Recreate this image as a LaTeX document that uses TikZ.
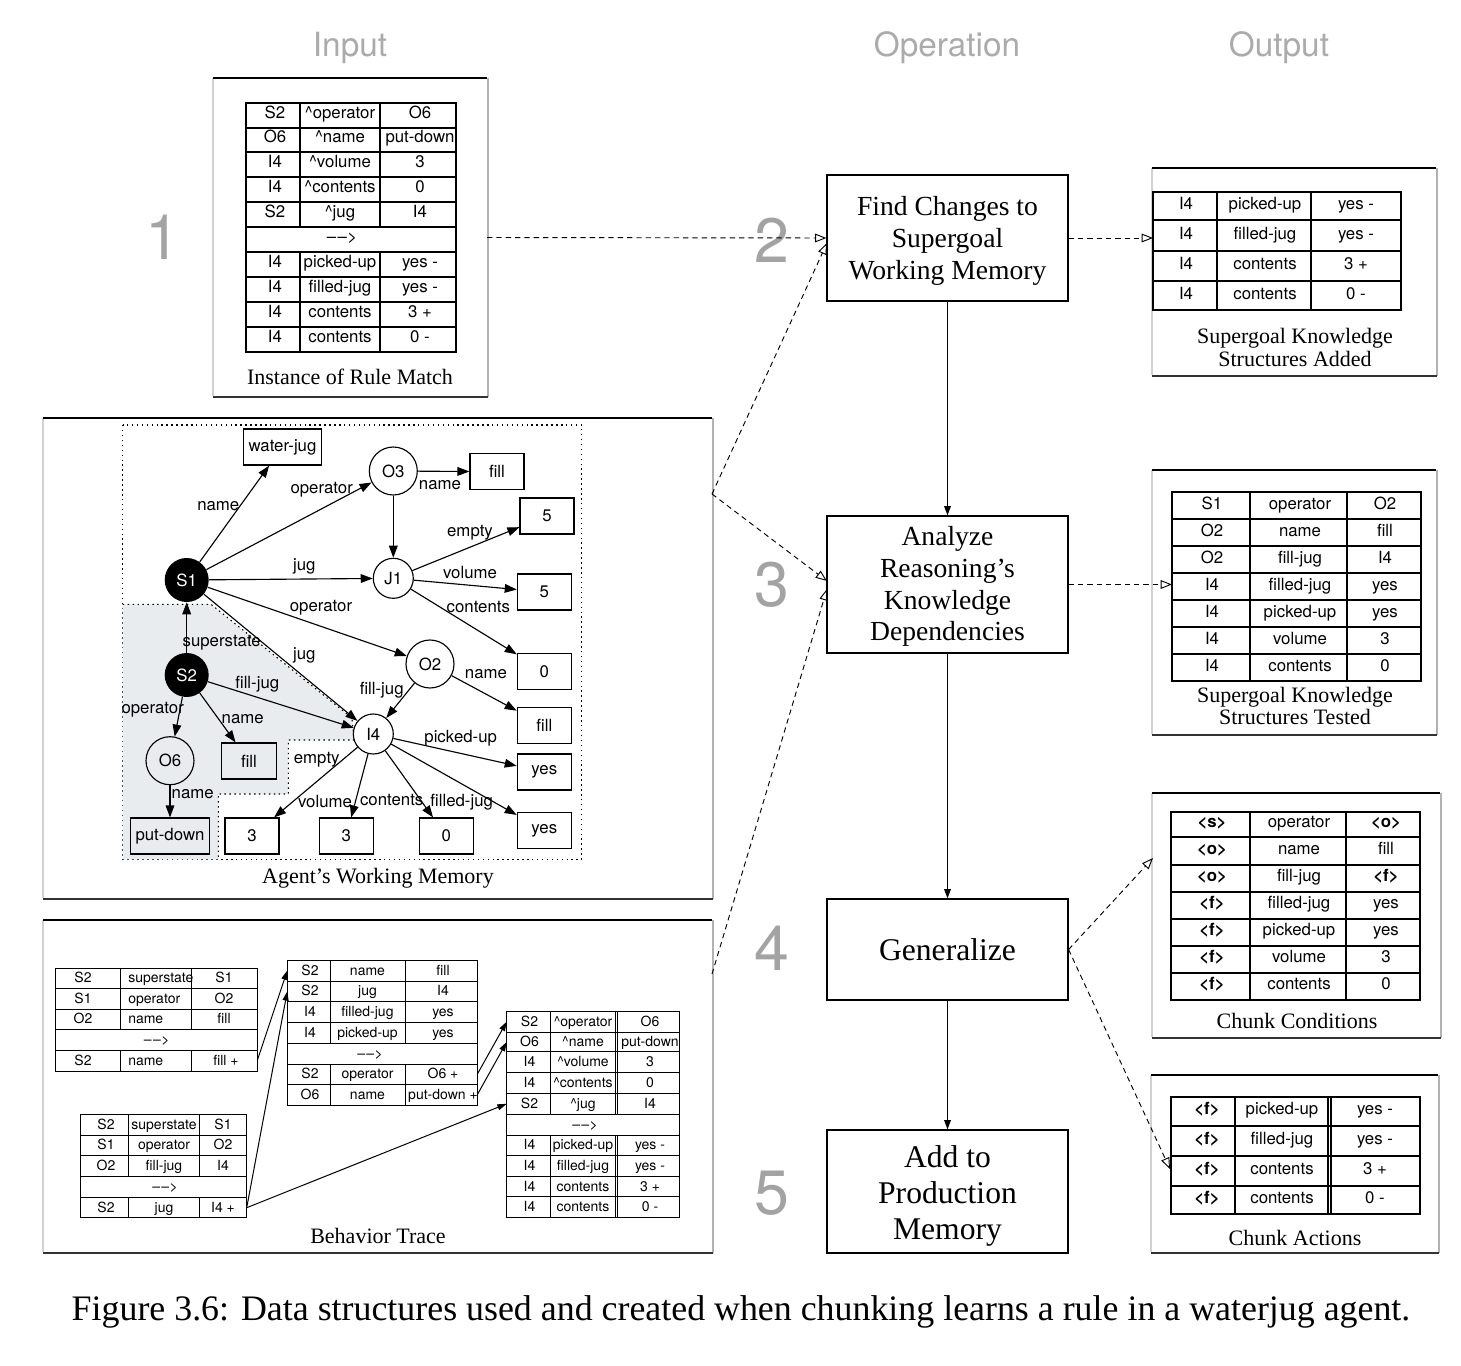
\documentclass[tikz,border=0pt]{standalone}
\usepackage{fontspec}
\setmainfont{Liberation Serif}
\setsansfont{TeX Gyre Heros}
\usetikzlibrary{arrows.meta,shadows}
\definecolor{hdr}{HTML}{ABABAB}
\definecolor{digc}{HTML}{A3A3A3}
\definecolor{shadeg}{HTML}{E9ECEE}
\newcommand\ftab{\sffamily\fontsize{12.6}{15}\selectfont}
\newcommand\fbt{\sffamily\fontsize{10.5}{12}\selectfont}
\newcommand\fgr{\sffamily\fontsize{12.6}{15}\selectfont}
\newcommand\fcap{\rmfamily\fontsize{16.5}{16.8}\selectfont}
\newcommand\fopA{\rmfamily\fontsize{20.7}{23.8}\selectfont}
\newcommand\fopB{\rmfamily\fontsize{23.7}{27}\selectfont}
\newcommand\fhdr{\sffamily\fontsize{25}{30}\selectfont}
\newcommand\fdig{\sffamily\fontsize{47}{50}\selectfont}
\newcommand\ffig{\rmfamily\fontsize{26.9}{30}\selectfont}
\newcommand\arrw{\textendash\hspace{1pt}\textendash\hspace{0.3pt}>}
\newcommand\trow[8]{%
  \node[tt] (#1a) at (#3,#2) {#6};
  \node[tt] (#1b) at (#4,#2) {#7};
  \node[tt] (#1c) at (#5,#2) {#8};}
\newcommand\mkpanel[5]{%
  \fill[white] (#2,#3) rectangle (#4,#5);
  \draw[black!18, line width=0.8pt] (#2,#3) -- (#2,#5);
  \draw[black!30, line width=1.4pt] (#4+1,#3) -- (#4+1,#5+1);
  \draw[black, line width=0.8pt] (#2,#3) -- (#4,#3);
  \draw[black!80, line width=2pt] (#2,#5+1) -- (#4+1,#5+1);
  \coordinate (#1) at (#2,#3);}
\begin{document}
\begin{tikzpicture}[x=0.75pt,y=-0.75pt,
  tbl/.style={line width=0.85pt},
  tblb/.style={line width=0.7pt},
  tt/.style={anchor=base, inner sep=0pt, outer sep=0pt, font=\ftab},
  gbox/.style={draw, fill=white, line width=0.85pt, minimum width=40.5pt, minimum height=27pt, inner sep=0pt, font=\fgr},
  gcirc/.style={circle, draw, fill=white, line width=0.85pt, inner sep=0pt, font=\fgr},
  bcirc/.style={circle, fill=black, text=white, inner sep=0pt, minimum size=33pt, font=\fgr},
  glab/.style={inner sep=0pt, font=\fgr},
  garr/.style={line width=0.85pt, -{Triangle[length=9pt,width=6.5pt]}},
  darr/.style={line width=0.7pt, dash pattern=on 4pt off 3pt, -{Triangle[open,length=8.5pt,width=6.5pt]}},
  sarr/.style={line width=0.9pt, -{Triangle[length=7pt,width=5pt]}},
  btarr/.style={line width=0.75pt, -{Triangle[length=7pt,width=4.5pt]}},
  opbox/.style={draw, fill=white, line width=0.9pt, align=center, inner sep=0pt,
     drop shadow={shadow xshift=1.1pt, shadow yshift=-1.1pt, fill=black!55, opacity=1}},
  captxt/.style={font=\fcap, align=center, inner sep=0pt},
  hdrtxt/.style={font=\fhdr, text=hdr, inner sep=0pt},
  digit/.style={font=\fdig, text=digc, inner sep=0pt}]

\useasboundingbox (0,0) rectangle (1461,1366);
\fill[white] (0,0) rectangle (1461,1366);

% ---------- headers ----------
\node[hdrtxt] (hIn) at (350,47.5) {Input};
\node[hdrtxt] (hOp) at (947,47.5) {Operation};
\node[hdrtxt] (hOut) at (1279,47.5) {Output};

% ---------- digits ----------
\node[digit] (d1) at (163,237) {1};
\node[digit] (d2) at (772,240) {2};
\node[digit] (d3) at (772,585) {3};
\node[digit] (d4) at (772,948) {4};
\node[digit] (d5) at (772,1193) {5};

% ---------- panels ----------
\mkpanel{pIn}{213}{78}{487}{396}
\mkpanel{pWM}{43}{418}{712}{898}
\mkpanel{pBT}{43}{920}{712}{1252}
\mkpanel{pAdd}{1152}{168}{1436}{375}
\mkpanel{pTest}{1152}{470}{1436}{734}
\mkpanel{pCond}{1152}{793}{1440}{1037}
\mkpanel{pAct}{1151}{1075}{1438}{1252}

% ---------- Input table ----------
\draw[tbl] (246,103) rectangle (456,352);
\foreach \yy in {128,177,202,227,252,277,302,327} \draw[tbl] (246,\yy) -- (456,\yy);
\draw[line width=1.5pt] (246,152) -- (456,152);
\draw[tbl] (300,103) -- (300,227); \draw[tbl] (300,252) -- (300,352);
\draw[line width=1.4pt] (380,103) -- (380,227); \draw[line width=1.4pt] (380,252) -- (380,352);
\trow{in1}{118.5}{275}{340}{420}{S2}{\textasciicircum operator}{O6}
\trow{in2}{143}{275}{340}{420}{O6}{\textasciicircum name}{put-down}
\trow{in3}{167.5}{275}{340}{420}{I4}{\textasciicircum volume}{3}
\trow{in4}{192.5}{275}{340}{420}{I4}{\textasciicircum contents}{0}
\trow{in5}{217.5}{275}{340}{420}{S2}{\textasciicircum jug}{I4}
\node[tt] (inAr) at (342,242.5) {\arrw};
\trow{in6}{267.5}{275}{340}{420}{I4}{picked-up}{yes -}
\trow{in7}{292.5}{275}{340}{420}{I4}{filled-jug}{yes -}
\trow{in8}{317.5}{275}{340}{420}{I4}{contents}{3 +}
\trow{in9}{342.5}{275}{340}{420}{I4}{contents}{0 -}
\node[captxt] (cIn) at (350,377) {Instance of Rule Match};

% ---------- Added table ----------
\draw[tbl] (1153,192) rectangle (1401,310);
\foreach \yy in {220,251,281} \draw[tbl] (1153,\yy) -- (1401,\yy);
\foreach \xx in {1217,1311} \draw[tbl] (\xx,192) -- (\xx,310);
\trow{ad1}{210}{1186}{1265}{1356}{I4}{picked-up}{yes -}
\trow{ad2}{239.5}{1186}{1265}{1356}{I4}{filled-jug}{yes -}
\trow{ad3}{270}{1186}{1265}{1356}{I4}{contents}{3 +}
\trow{ad4}{299.5}{1186}{1265}{1356}{I4}{contents}{0 -}
\node[captxt] (cAdd) at (1295,347.5) {Supergoal Knowledge\\Structures Added};

% ---------- Tested table ----------
\draw[tbl] (1172,492) rectangle (1421,681);
\foreach \yy in {519,546,573,600,627,654} \draw[tbl] (1172,\yy) -- (1421,\yy);
\foreach \xx in {1250,1347} \draw[tbl] (\xx,492) -- (\xx,681);
\trow{te1}{509}{1212}{1300}{1385}{S1}{operator}{O2}
\trow{te2}{536}{1212}{1300}{1385}{O2}{name}{fill}
\trow{te3}{563}{1212}{1300}{1385}{O2}{fill-jug}{I4}
\trow{te4}{590}{1212}{1300}{1385}{I4}{filled-jug}{yes}
\trow{te5}{617}{1212}{1300}{1385}{I4}{picked-up}{yes}
\trow{te6}{644}{1212}{1300}{1385}{I4}{volume}{3}
\trow{te7}{671}{1212}{1300}{1385}{I4}{contents}{0}
\node[captxt] (cTest) at (1295,706) {Supergoal Knowledge\\Structures Tested};

% ---------- Chunk conditions ----------
\draw[tbl] (1171,812) rectangle (1420,1000);
\foreach \yy in {837,865,892,919,946,973} \draw[tbl] (1171,\yy) -- (1420,\yy);
\foreach \xx in {1250,1346} \draw[tbl] (\xx,812) -- (\xx,1000);
\trow{cc1}{827.5}{1212}{1299}{1386}{\textbf{<s>}}{operator}{\textbf{<o>}}
\trow{cc2}{854}{1212}{1299}{1386}{\textbf{<o>}}{name}{fill}
\trow{cc3}{881.5}{1212}{1299}{1386}{\textbf{<o>}}{fill-jug}{\textbf{<f>}}
\trow{cc4}{908.5}{1212}{1299}{1386}{\textbf{<f>}}{filled-jug}{yes}
\trow{cc5}{935.5}{1212}{1299}{1386}{\textbf{<f>}}{picked-up}{yes}
\trow{cc6}{962.5}{1212}{1299}{1386}{\textbf{<f>}}{volume}{3}
\trow{cc7}{989.5}{1212}{1299}{1386}{\textbf{<f>}}{contents}{0}
\node[captxt] (cCond) at (1297,1021) {Chunk Conditions};

% ---------- Chunk actions ----------
\draw[tbl] (1171,1097) rectangle (1420,1214);
\foreach \yy in {1126,1156,1186} \draw[tbl] (1171,\yy) -- (1420,\yy);
\foreach \xx in {1235,1328,1331} \draw[tbl] (\xx,1097) -- (\xx,1214);
\trow{ca1}{1114.5}{1207}{1282}{1375}{\textbf{<f>}}{picked-up}{yes -}
\trow{ca2}{1144}{1207}{1282}{1375}{\textbf{<f>}}{filled-jug}{yes -}
\trow{ca3}{1174}{1207}{1282}{1375}{\textbf{<f>}}{contents}{3 +}
\trow{ca4}{1203}{1207}{1282}{1375}{\textbf{<f>}}{contents}{0 -}
\node[captxt] (cAct) at (1295,1238) {Chunk Actions};

% ---------- Working memory graph ----------
\draw[line width=0.8pt, dash pattern=on 1.1pt off 2.6pt] (122.7,425) rectangle (581.7,859.3);
\fill[shadeg] (122.7,604.3) -- (211,604.3) -- (352,718) -- (354,740) -- (288.3,740) -- (288.3,794) -- (218.3,794) -- (218.3,859.3) -- (122.7,859.3) -- cycle;
\draw[line width=0.8pt, dash pattern=on 1.1pt off 2.6pt] (122.7,604.3) -- (211,604.3) -- (352,718) -- (354,740) -- (288.3,740) -- (288.3,794) -- (218.3,794) -- (218.3,859.3);

\node[bcirc] (S1) at (186.7,580) {S1};
\node[bcirc] (S2) at (186.7,675) {S2};
\node[gcirc, minimum size=36pt] (O3) at (393.3,471) {O3};
\node[gcirc, minimum size=30pt] (J1) at (393.3,578.3) {J1};
\node[gcirc, minimum size=36pt] (O2) at (430,664) {O2};
\node[gcirc, minimum size=30pt] (I4) at (373.3,734) {I4};
\node[gcirc, minimum size=36pt, fill=shadeg] (O6) at (170,760.7) {O6};
\node[gbox, minimum width=58.8pt] (wj) at (282.5,447) {water-jug};
\node[gbox] (fillA) at (497,471.7) {fill};
\node[gbox] (fiveA) at (547,516) {5};
\node[gbox] (fiveB) at (544.3,592) {5};
\node[gbox] (zeroA) at (544.3,671.3) {0};
\node[gbox] (fillB) at (544.3,725.5) {fill};
\node[gbox] (yesA) at (544.3,772) {yes};
\node[gbox] (yesB) at (544.3,830.5) {yes};
\node[gbox] (zeroB) at (446.3,836) {0};
\node[gbox] (threeB) at (346.3,836) {3};
\node[gbox] (threeA) at (252,836) {3};
\node[gbox, fill=shadeg, minimum width=58.8pt] (pd) at (170,836) {put-down};
\node[gbox, fill=shadeg, minimum width=41.7pt] (fillC) at (249,761) {fill};

\draw[garr] (S1) -- (wj);
\draw[garr] (S1) -- (O3);
\draw[garr] (S1) -- (J1);
\draw[garr] (S1) -- (O2);
\draw[garr] (S1) -- (I4);
\draw[garr] (S2) -- (S1);
\draw[garr] (S2) -- (I4);
\draw[garr] (S2) -- (O6);
\draw[garr] (S2) -- (fillC);
\draw[garr] (O6) -- (pd);
\draw[garr] (O3) -- (fillA);
\draw[garr] (O3) -- (J1);
\draw[garr] (J1) -- (fiveA);
\draw[garr] (J1) -- (fiveB);
\draw[garr] (J1) -- (zeroA);
\draw[garr] (O2) -- (fillB);
\draw[garr] (O2) -- (I4);
\draw[garr] (I4) -- (threeA);
\draw[garr] (I4) -- (threeB);
\draw[garr] (I4) -- (zeroB);
\draw[garr] (I4) -- (yesA);
\draw[garr] (I4) -- (yesB);

\node[glab] (l1) at (218.3,505.7) {name};
\node[glab] (l2) at (321.7,490) {operator};
\node[glab] (l3) at (304.3,566) {jug};
\node[glab] (l4) at (321,607.7) {operator};
\node[glab] (l5) at (221.7,642.7) {superstate};
\node[glab] (l6) at (304.3,655) {jug};
\node[glab] (l7) at (257.3,684) {fill-jug};
\node[glab] (l8) at (152.7,710) {operator};
\node[glab] (l9) at (242.7,719) {name};
\node[glab] (l10) at (192.7,794.3) {name};
\node[glab] (l11) at (316.7,759.3) {empty};
\node[glab] (l12) at (325,801) {volume};
\node[glab] (l13) at (391.7,800) {contents};
\node[glab] (l14) at (461.7,801.7) {filled-jug};
\node[glab] (l15) at (460.7,738.3) {picked-up};
\node[glab] (l16) at (486,674.3) {name};
\node[glab] (l17) at (381.7,690) {fill-jug};
\node[glab] (l18) at (440,485) {name};
\node[glab] (l19) at (470,532.3) {empty};
\node[glab] (l20) at (470,572.3) {volume};
\node[glab] (l21) at (478.3,606.7) {contents};
\node[captxt] (cWM) at (378,878) {Agent’s Working Memory};

% ---------- Behavior trace ----------
\begin{scope}[tt/.style={anchor=base, inner sep=0pt, font=\fbt}]
% BT1
\draw[tblb] (55.7,968.3) rectangle (257.3,1071);
\draw[line width=1.2pt] (55.7,988.3) -- (257.3,988.3);
\foreach \yy in {1009,1029,1050} \draw[tblb] (55.7,\yy) -- (257.3,\yy);
\foreach \xx in {120.7,191.7} {\draw[tblb] (\xx,968.3) -- (\xx,1029); \draw[tblb] (\xx,1050) -- (\xx,1071);}
\node[tt] (b1r1a) at (83,982.8) {S2}; \node[tt, anchor=base west] (b1r1b) at (128,982.8) {superstate}; \node[tt] (b1r1c) at (224,982.8) {S1};
\node[tt] (b1r2a) at (83,1003.1) {S1}; \node[tt, anchor=base west] (b1r2b) at (128,1003.1) {operator}; \node[tt] (b1r2c) at (224,1003.1) {O2};
\node[tt] (b1r3a) at (83,1023.5) {O2}; \node[tt, anchor=base west] (b1r3b) at (128,1023.5) {name}; \node[tt] (b1r3c) at (224,1023.5) {fill};
\node[tt] (b1ar) at (156.7,1044) {\arrw};
\node[tt] (b1r5a) at (83,1065) {S2}; \node[tt, anchor=base west] (b1r5b) at (128,1065) {name}; \node[tt] (b1r5c) at (226,1065) {fill +};
% BT2
\draw[tblb] (80.7,1114.3) rectangle (246.7,1217.7);
\foreach \yy in {1135,1155.7,1176.7,1197.7} \draw[tblb] (80.7,\yy) -- (246.7,\yy);
\foreach \xx in {128.3,199.3} {\draw[tblb] (\xx,1114.3) -- (\xx,1176.7); \draw[tblb] (\xx,1197.7) -- (\xx,1217.7);}
\trow{b2r1}{1129}{106}{164}{223}{S2}{superstate}{S1}
\trow{b2r2}{1149.8}{106}{164}{223}{S1}{operator}{O2}
\trow{b2r3}{1170.7}{106}{164}{223}{O2}{fill-jug}{I4}
\node[tt] (b2ar) at (165,1191.7) {\arrw};
\trow{b2r5}{1212.2}{106}{164}{223}{S2}{jug}{I4 +}
% BT3
\draw[tblb] (287.3,960) rectangle (477.3,1105);
\foreach \yy in {981,1001.7,1022.3,1043.3,1064,1084.3} \draw[tblb] (287.3,\yy) -- (477.3,\yy);
\foreach \xx in {330,405} {\draw[tblb] (\xx,960) -- (\xx,1043.3); \draw[tblb] (\xx,1064) -- (\xx,1105);}
\trow{b3r1}{975}{310}{367.5}{443}{S2}{name}{fill}
\trow{b3r2}{995.8}{310}{367.5}{443}{S2}{jug}{I4}
\trow{b3r3}{1016.5}{310}{367.5}{443}{I4}{filled-jug}{yes}
\trow{b3r4}{1037.3}{310}{367.5}{443}{I4}{picked-up}{yes}
\node[tt] (b3ar) at (370,1058.2) {\arrw};
\trow{b3r6}{1078.7}{310}{367.5}{443}{S2}{operator}{O6 +}
\trow{b3r7}{1099.2}{310}{367.5}{443}{O6}{name}{put-down +}
% BT4
\draw[tblb] (506.7,1011) rectangle (679.3,1217.3);
\foreach \yy in {1032.3,1051.7,1072.3,1093.3,1114.3,1135,1155.7,1176.7,1196.7} \draw[tblb] (506.7,\yy) -- (679.3,\yy);
\foreach \xx in {550,615.7,617.7} {\draw[tblb] (\xx,1011) -- (\xx,1114.3); \draw[tblb] (\xx,1135) -- (\xx,1217.3);}
\trow{b4r1}{1026.2}{529.5}{583}{650}{S2}{\textasciicircum operator}{O6}
\trow{b4r2}{1046.5}{529.5}{583}{650}{O6}{\textasciicircum name}{put-down}
\trow{b4r3}{1066.5}{529.5}{583}{650}{I4}{\textasciicircum volume}{3}
\trow{b4r4}{1087.3}{529.5}{583}{650}{I4}{\textasciicircum contents}{0}
\trow{b4r5}{1108.3}{529.5}{583}{650}{S2}{\textasciicircum jug}{I4}
\node[tt] (b4ar) at (585,1129.2) {\arrw};
\trow{b4r6}{1149.8}{529.5}{583}{650}{I4}{picked-up}{yes -}
\trow{b4r7}{1170.7}{529.5}{583}{650}{I4}{filled-jug}{yes -}
\trow{b4r8}{1191.2}{529.5}{583}{650}{I4}{contents}{3 +}
\trow{b4r9}{1211.5}{529.5}{583}{650}{I4}{contents}{0 -}
\end{scope}
\coordinate (bt1e) at (257.3,1060.5);
\coordinate (bt2e) at (246.7,1207.7);
\coordinate (bt3a) at (287.3,970.5);
\coordinate (bt3b) at (287.3,991.3);
\coordinate (bt3f) at (477.3,1074.2);
\coordinate (bt3g) at (477.3,1094.7);
\coordinate (bt4a) at (506.7,1021.7);
\coordinate (bt4b) at (506.7,1042);
\coordinate (bt4e) at (506.7,1103.8);
\draw[btarr] (bt1e) -- (bt3a);
\draw[btarr] (bt2e) -- (bt3b);
\draw[btarr] (bt2e) -- (bt4e);
\draw[btarr] (bt3f) -- (bt4a);
\draw[btarr] (bt3g) -- (bt4b);
\node[captxt] (cBT) at (378,1236) {Behavior Trace};

% ---------- Operation boxes ----------
\node[opbox, font=\fopA, minimum width=180.75pt, minimum height=94.5pt] (find) at (947.5,238) {\rule{0pt}{19pt}Find Changes to\\Supergoal\\Working Memory};
\node[opbox, font=\fopA, minimum width=180.75pt, minimum height=102.75pt] (ana) at (947.5,584.5) {\rule{0pt}{17.5pt}Analyze\\Reasoning’s\\Knowledge\\Dependencies};
\node[opbox, font=\fopB, minimum width=180.75pt, minimum height=75.75pt] (gen) at (947.5,949.5) {Generalize};
\node[opbox, font=\fopB, minimum width=180.75pt, minimum height=92.25pt] (add) at (947.5,1191.5) {\rule{0pt}{22.5pt}Add to\\Production\\Memory};

\draw[sarr] (find) -- (ana);
\draw[sarr] (ana) -- (gen);
\draw[sarr] (gen) -- (add);

% ---------- dashed connectors ----------
\coordinate (inR) at (487,237.5);
\coordinate (wmR) at (712,494);
\coordinate (btR) at (712,974);
\coordinate (findL2) at (827,243);
\coordinate (anaL1) at (827,581);
\coordinate (anaL2) at (827,589);
\coordinate (addL) at (1153,238);
\coordinate (testL) at (1172,584.5);
\coordinate (condL) at (1153,858);
\coordinate (actL) at (1170,1169);
\draw[darr] (inR) -- (find.west);
\draw[darr] (wmR) -- (findL2);
\draw[darr] (wmR) -- (anaL1);
\draw[darr] (btR) -- (anaL2);
\draw[darr] (find.east) -- (addL);
\draw[darr] (ana.east) -- (testL);
\draw[darr] (gen.east) -- (condL);
\draw[darr] (gen.east) -- (actL);

% ---------- figure caption ----------
\node[font=\ffig, inner sep=0pt] (fig) at (741,1312) {Figure 3.6: Data structures used and created when chunking learns a rule in a waterjug agent.};
\end{tikzpicture}
\end{document}
